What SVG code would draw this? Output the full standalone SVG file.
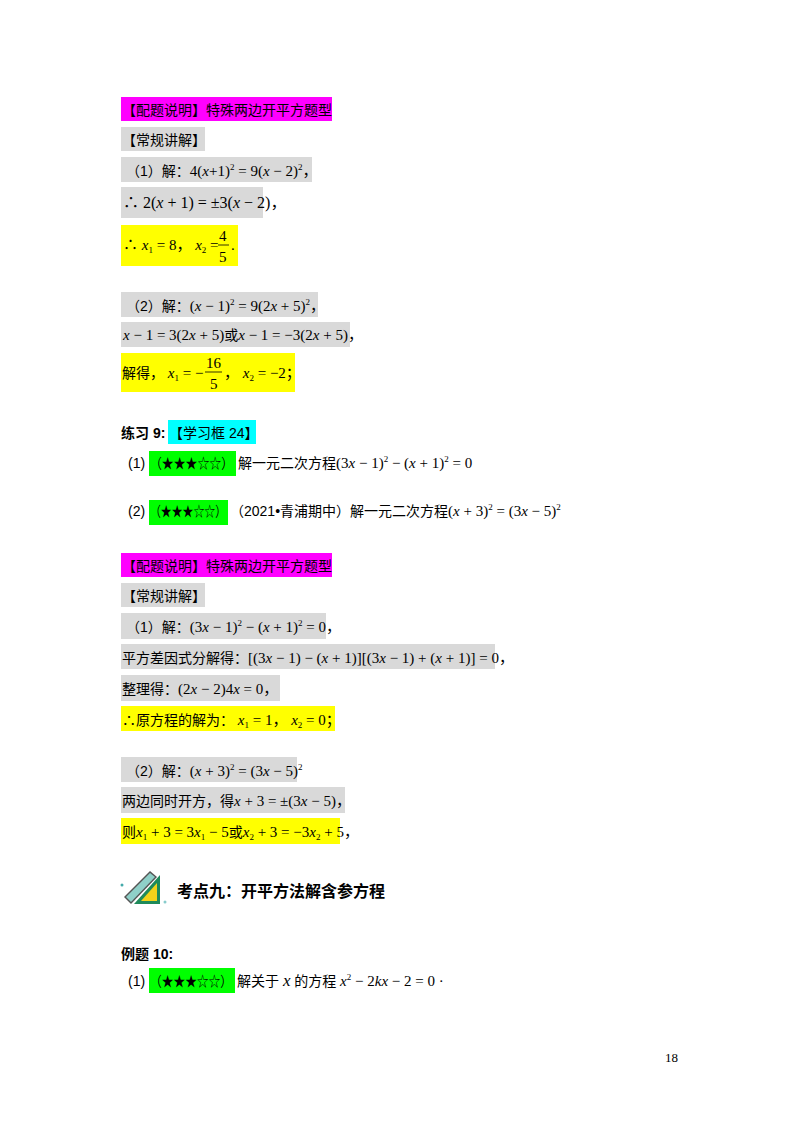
<svg xmlns="http://www.w3.org/2000/svg" width="800" height="1132" viewBox="0 0 800 1132">
<style>
.c{font-family:"Liberation Sans","Noto Sans CJK SC",sans-serif;font-size:14px;fill:#000}
.m{font-family:"Liberation Serif","Noto Sans CJK SC",serif;font-size:15px}
.i{font-style:italic}
.s{font-size:9px}
.b{font-weight:bold}
.g{fill:#d9d9d9}.y{fill:#ffff00}.p{fill:#ff00ff}.gr{fill:#00ff00}.cy{fill:#00ffff}
</style>
<rect width="800" height="1132" fill="#fff"/>
<g id="block1">
<rect class="p" x="121" y="97" width="211" height="24"/>
<text class="c" x="122" y="115">【配题说明】特殊两边开平方题型</text>
<rect class="g" x="121" y="127" width="84" height="24"/>
<text class="c" x="122" y="145">【常规讲解】</text>
<rect class="g" x="121" y="157" width="191" height="25"/>
<text class="c" x="126" y="176">（1）解：<tspan class="m">4(<tspan class="i">x</tspan>+1)<tspan class="s" dy="-6">2</tspan><tspan dy="6"> = 9(</tspan><tspan class="i">x</tspan> − 2)<tspan class="s" dy="-6">2</tspan><tspan dy="6">，</tspan></tspan></text>
<rect class="g" x="121" y="187" width="142" height="31"/>
<text class="c m" x="123" y="208" style="font-size:16px">∴ 2(<tspan class="i">x</tspan> + 1) = ±3(<tspan class="i">x</tspan> − 2)，</text>
<rect class="y" x="121" y="225" width="117" height="41"/>
<text class="c m" x="123" y="250">∴ <tspan class="i">x</tspan><tspan class="s" dy="3">1</tspan><tspan dy="-3"> = 8，  </tspan><tspan class="i">x</tspan><tspan class="s" dy="3">2</tspan><tspan dy="-3"> =</tspan></text>
<text class="c m" x="219" y="241">4</text>
<line x1="218" y1="245" x2="229" y2="245" stroke="#000" stroke-width="0.8"/>
<text class="c m" x="219" y="262">5</text>
<text class="c m" x="231" y="250">.</text>
<rect class="g" x="121" y="292" width="197" height="25"/>
<text class="c" x="126" y="311">（2）解：<tspan class="m">(<tspan class="i">x</tspan> − 1)<tspan class="s" dy="-6">2</tspan><tspan dy="6"> = 9(2</tspan><tspan class="i">x</tspan> + 5)<tspan class="s" dy="-6">2</tspan><tspan dy="6">，</tspan></tspan></text>
<rect class="g" x="121" y="322" width="229" height="25"/>
<text class="c" x="123" y="340"><tspan class="m"><tspan class="i">x</tspan> − 1 = 3(2<tspan class="i">x</tspan> + 5)</tspan>或<tspan class="m"><tspan class="i">x</tspan> − 1 = −3(2<tspan class="i">x</tspan> + 5)，</tspan></text>
<rect class="y" x="121" y="353" width="174" height="39"/>
<text class="c" x="122" y="378">解得，<tspan class="m"> <tspan class="i">x</tspan><tspan class="s" dy="3">1</tspan><tspan dy="-3"> = −</tspan></tspan></text>
<text class="c m" x="206" y="368">16</text>
<line x1="205" y1="372" x2="222" y2="372" stroke="#000" stroke-width="0.8"/>
<text class="c m" x="210" y="389">5</text>
<text class="c m" x="224" y="378">，  <tspan class="i">x</tspan><tspan class="s" dy="3">2</tspan><tspan dy="-3"> = −2；</tspan></text>
</g>
<g id="exercise9">
<text class="c b" x="121" y="438">练习 9:</text>
<rect class="cy" x="168" y="420" width="88" height="24"/>
<text class="c" x="169" y="438">【学习框 24】</text>
<text class="c" x="128" y="468">(1)</text>
<rect class="gr" x="149" y="451" width="87" height="25"/>
<text class="c" x="150" y="468" textLength="83" lengthAdjust="spacingAndGlyphs">（★★★☆☆）</text>
<text class="c" x="238" y="468">解一元二次方程<tspan class="m">(3<tspan class="i">x</tspan> − 1)<tspan class="s" dy="-6">2</tspan><tspan dy="6"> − (</tspan><tspan class="i">x</tspan> + 1)<tspan class="s" dy="-6">2</tspan><tspan dy="6"> = 0</tspan></tspan></text>
<text class="c" x="128" y="516">(2)</text>
<rect class="gr" x="149" y="500" width="79" height="25"/>
<text class="c" x="150" y="516" textLength="76" lengthAdjust="spacingAndGlyphs">（★★★☆☆）</text>
<text class="c" x="230" y="516">（2021•青浦期中）解一元二次方程<tspan class="m">(<tspan class="i">x</tspan> + 3)<tspan class="s" dy="-6">2</tspan><tspan dy="6"> = (3</tspan><tspan class="i">x</tspan> − 5)<tspan class="s" dy="-6">2</tspan></tspan></text>
</g>
<g id="block2">
<rect class="p" x="121" y="553" width="211" height="24"/>
<text class="c" x="122" y="571">【配题说明】特殊两边开平方题型</text>
<rect class="g" x="121" y="583" width="84" height="24"/>
<text class="c" x="122" y="601">【常规讲解】</text>
<rect class="g" x="121" y="613" width="205" height="26"/>
<text class="c" x="126" y="632">（1）解：<tspan class="m">(3<tspan class="i">x</tspan> − 1)<tspan class="s" dy="-6">2</tspan><tspan dy="6"> − (</tspan><tspan class="i">x</tspan> + 1)<tspan class="s" dy="-6">2</tspan><tspan dy="6"> = 0，</tspan></tspan></text>
<rect class="g" x="121" y="644" width="374" height="25"/>
<text class="c" x="122" y="663">平方差因式分解得：<tspan class="m">[(3<tspan class="i">x</tspan> − 1) − (<tspan class="i">x</tspan> + 1)][(3<tspan class="i">x</tspan> − 1) + (<tspan class="i">x</tspan> + 1)] = 0，</tspan></text>
<rect class="g" x="121" y="675" width="159" height="26"/>
<text class="c" x="122" y="694">整理得：<tspan class="m">(2<tspan class="i">x</tspan> − 2)4<tspan class="i">x</tspan> = 0，</tspan></text>
<rect class="y" x="121" y="706" width="214" height="25"/>
<text class="c" x="122" y="725">∴原方程的解为：<tspan class="m"> <tspan class="i">x</tspan><tspan class="s" dy="3">1</tspan><tspan dy="-3"> = 1，  </tspan><tspan class="i">x</tspan><tspan class="s" dy="3">2</tspan><tspan dy="-3"> = 0；</tspan></tspan></text>
<rect class="g" x="121" y="757" width="176" height="25"/>
<text class="c" x="126" y="776">（2）解：<tspan class="m">(<tspan class="i">x</tspan> + 3)<tspan class="s" dy="-6">2</tspan><tspan dy="6"> = (3</tspan><tspan class="i">x</tspan> − 5)<tspan class="s" dy="-6">2</tspan></tspan></text>
<rect class="g" x="121" y="787" width="224" height="26"/>
<text class="c" x="122" y="806">两边同时开方，得<tspan class="m"><tspan class="i">x</tspan> + 3 = ±(3<tspan class="i">x</tspan> − 5)，</tspan></text>
<rect class="y" x="121" y="818" width="219" height="26"/>
<text class="c" x="122" y="837">则<tspan class="m"><tspan class="i">x</tspan><tspan class="s" dy="3">1</tspan><tspan dy="-3"> + 3 = 3</tspan><tspan class="i">x</tspan><tspan class="s" dy="3">1</tspan><tspan dy="-3"> − 5</tspan></tspan>或<tspan class="m"><tspan class="i">x</tspan><tspan class="s" dy="3">2</tspan><tspan dy="-3"> + 3 = −3</tspan><tspan class="i">x</tspan><tspan class="s" dy="3">2</tspan><tspan dy="-3"> + 5，</tspan></tspan></text>
</g>
<g id="icon">
<polygon points="134,904 160,875 160,904" fill="#1f8a5a"/>
<polygon points="141,901 157,883 157,901" fill="#f2d21a"/>
<polygon points="124,897 150,871 157,877 131,904" fill="#555"/>
<polygon points="126,897 150,873 155,877 131,902" fill="#8fd0c8"/>
<circle cx="122" cy="885" r="1.5" fill="#4aa"/><circle cx="165" cy="902" r="1.5" fill="#8cc"/>
</g>
<text class="c b" x="177" y="897" style="font-size:16px">考点九：开平方法解含参方程</text>
<g id="example10">
<text class="c b" x="121" y="959">例题 10:</text>
<text class="c" x="128" y="986">(1)</text>
<rect class="gr" x="149" y="968" width="86" height="25"/>
<text class="c" x="150" y="986" textLength="82" lengthAdjust="spacingAndGlyphs">（★★★☆☆）</text>
<text class="c" x="237" y="986">解关于 <tspan class="m i" style="font-size:17px">x</tspan> 的方程<tspan class="m"> <tspan class="i">x</tspan><tspan class="s" dy="-6">2</tspan><tspan dy="6"> − 2</tspan><tspan class="i">kx</tspan> − 2 = 0 ·</tspan></text>
</g>
<text class="m" x="665" y="1062" style="font-size:13px">18</text>
</svg>
